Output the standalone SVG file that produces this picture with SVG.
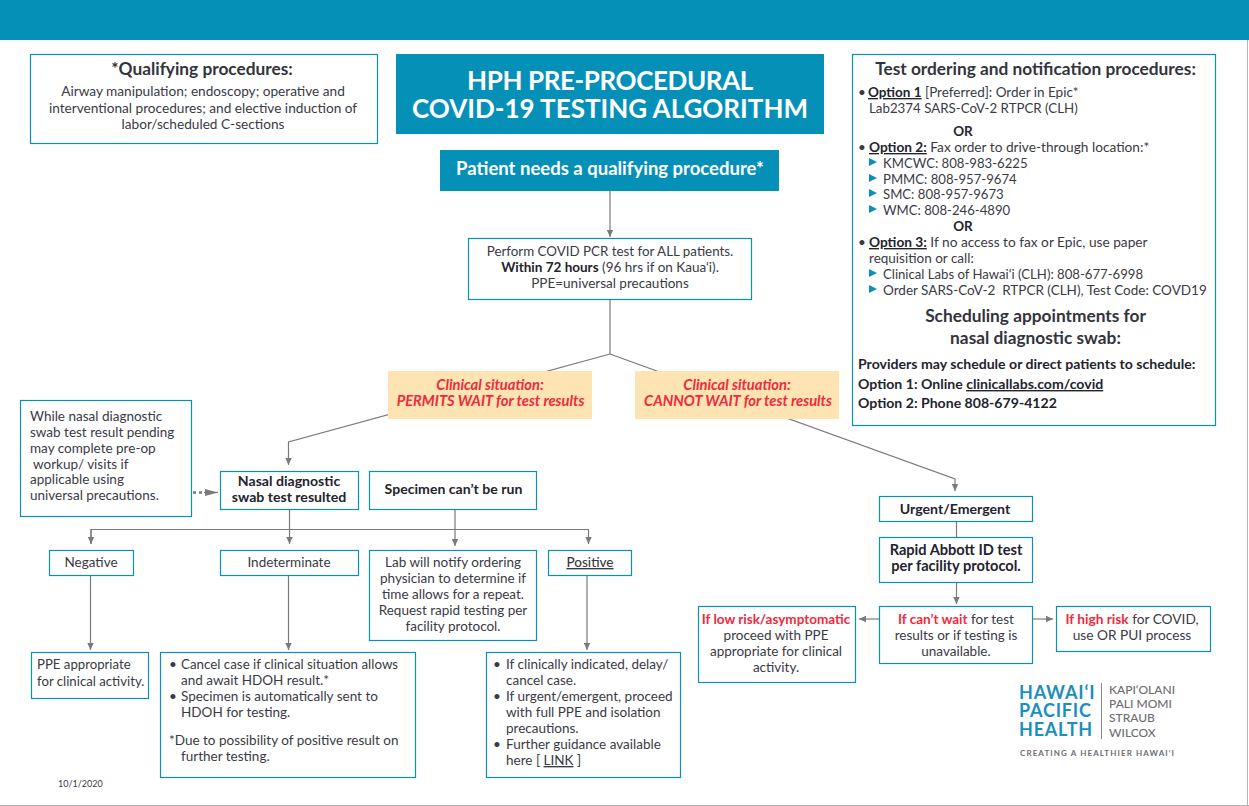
<svg xmlns="http://www.w3.org/2000/svg" width="1249" height="806" viewBox="0 0 1249 806">
<style>
text{font-family:"Lato","Open Sans","Liberation Sans",sans-serif;font-size:13.5px;fill:#3a3a44}
.c{text-anchor:middle}
.b{font-weight:700;fill:#23232d;font-size:14.100px}
.o{font-weight:700;fill:#23232d}
.box{fill:#fff;stroke:#0a8fb5;stroke-width:1.2}
.fill{fill:#0590b8}
.tan{fill:#fde4b2}
.w{fill:#fff;font-weight:700}
.r{fill:#ee2a40;font-weight:700}
.ri{fill:#ee2a40;font-weight:700;font-style:italic;font-size:14.700px}
.h{font-size:17.300px;font-weight:700;fill:#33333c}
.l{fill:none;stroke:#7a7a7a;stroke-width:1.2}
.tri{fill:#0a8fb5}
.p{font-size:13.150px}
.lg{font-size:18px;font-weight:700;fill:#1b8fc0;letter-spacing:.8px}
.ln{font-size:12px;fill:#6d6e71;font-weight:500}
</style>
<defs>
<marker id="a" markerWidth="8" markerHeight="8" refX="7" refY="4" orient="auto" markerUnits="userSpaceOnUse"><path d="M0 0.8L7 4L0 7.2z" fill="#7a7a7a"/></marker>
<marker id="d" markerWidth="14" markerHeight="10" refX="13" refY="5" orient="auto" markerUnits="userSpaceOnUse"><path d="M0 1.5L13 5L0 8.5z" fill="#7a7a7a"/></marker>
</defs>
<rect width="1249" height="806" fill="#fff"/>
<rect x="0" y="0" width="1249" height="40" class="fill"/>
<path d="M1247.500 40V806M0 805.500H1249" stroke="#b5b5b5" fill="none"/>
<g id="connectors">
<path class="l" marker-end="url(#a)" d="M610 191V237"/>
<path class="l" d="M610 299V354"/>
<path class="l" marker-end="url(#a)" d="M610 354L288.500 442V465"/>
<path class="l" marker-end="url(#a)" d="M610 354L955 479V491"/>
<path d="M193 492.500H204" stroke="#7a7a7a" stroke-width="2.500" stroke-dasharray="3 3" fill="none"/>
<path d="M204 492.500L218 492.500" marker-end="url(#d)" class="l"/>
<path class="l" marker-end="url(#a)" d="M289.500 510V544"/>
<path class="l" marker-end="url(#a)" d="M91 544V529.500H588.500V544"/>
<path class="l" marker-end="url(#a)" d="M91 529.500V544"/>
<path class="l" marker-end="url(#a)" d="M455 510V546"/>
<path class="l" marker-end="url(#a)" d="M90.500 576V650"/>
<path class="l" marker-end="url(#a)" d="M288.500 576V650"/>
<path class="l" marker-end="url(#a)" d="M587 576V650"/>
<path class="l" d="M956.500 522V537"/>
<path class="l" marker-end="url(#a)" d="M956.500 582V604"/>
<path class="l" marker-end="url(#a)" d="M879 619H859"/>
<path class="l" marker-end="url(#a)" d="M1033 619H1053"/>
</g>
<g id="n-qual"><rect class="box" x="30.500" y="54.500" width="347" height="89"/>
<text class="c h" x="202" y="75">*Qualifying procedures:</text>
<text class="c" x="203" y="96" style="font-size:13.650px">Airway manipulation; endoscopy; operative and</text>
<text class="c" x="203" y="113" style="font-size:13.650px">interventional procedures; and elective induction of</text>
<text class="c" x="203" y="129" style="font-size:13.650px">labor/scheduled C-sections</text></g>
<g id="n-title"><rect class="fill" x="396" y="54" width="428" height="80"/>
<text class="c w" style="font-size:26px;letter-spacing:-.4px" x="610" y="90">HPH PRE-PROCEDURAL</text>
<text class="c w" style="font-size:26px" x="610" y="118">COVID-19 TESTING ALGORITHM</text></g>
<g id="n-need"><rect class="fill" x="440" y="150" width="339" height="41"/>
<text class="c w" style="font-size:18.500px" x="610" y="175">Patient needs a qualifying procedure*</text></g>
<g id="n-pcr"><rect class="box" x="468.500" y="238.500" width="283" height="61"/>
<text class="c" x="610" y="256" style="font-size:13.350px">Perform COVID PCR test for ALL patients.</text>
<text class="c" x="610" y="272"><tspan class="o">Within 72 hours</tspan> (96 hrs if on Kaua‘i).</text>
<text class="c" x="610" y="288">PPE=universal precautions</text></g>
<g id="n-permits"><rect class="tan" x="388" y="371" width="204" height="48"/>
<text class="c ri" x="490" y="390">Clinical situation:</text>
<text class="c ri" x="490.500" y="406">PERMITS WAIT for test results</text></g>
<g id="n-cannot"><rect class="tan" x="635" y="371" width="204" height="48"/>
<text class="c ri" x="737" y="390">Clinical situation:</text>
<text class="c ri" x="738" y="406">CANNOT WAIT for test results</text></g>
<g id="n-while"><rect class="box" x="20.500" y="400.500" width="171" height="116"/>
<text x="30" y="421">While nasal diagnostic</text>
<text x="30" y="437">swab test result pending</text>
<text x="30" y="453">may complete pre-op</text>
<text x="33" y="469">workup/ visits if</text>
<text x="30" y="484">applicable using</text>
<text x="30" y="500">universal precautions.</text></g>
<g id="n-nasal"><rect class="box" x="220.500" y="471.500" width="138" height="38"/>
<text class="c b" x="289" y="486">Nasal diagnostic</text>
<text class="c b" x="289" y="502">swab test resulted</text></g>
<g id="n-spec"><rect class="box" x="369.500" y="471.500" width="167" height="38"/>
<text class="c b" x="453.500" y="494">Specimen can’t be run</text></g>
<g id="n-neg"><rect class="box" x="49.500" y="550.500" width="84" height="25"/>
<text class="c" x="91" y="567">Negative</text></g>
<g id="n-ind"><rect class="box" x="220.500" y="550.500" width="138" height="25"/>
<text class="c" x="289" y="567">Indeterminate</text></g>
<g id="n-lab"><rect class="box" x="369.500" y="550.500" width="167" height="90"/>
<text class="c" x="453" y="567">Lab will notify ordering</text>
<text class="c" x="453" y="583">physician to determine if</text>
<text class="c" x="453" y="599">time allows for a repeat.</text>
<text class="c" x="453" y="615">Request rapid testing per</text>
<text class="c" x="453" y="631">facility protocol.</text></g>
<g id="n-pos"><rect class="box" x="548.500" y="550.500" width="83" height="25"/>
<text class="c" x="590" y="567" text-decoration="underline" style="font-weight:500">Positive</text></g>
<g id="n-ppe"><rect class="box" x="31.500" y="652.500" width="117" height="46"/>
<text x="37" y="669" style="font-size:13.200px">PPE appropriate</text>
<text x="37" y="686" style="font-size:13.200px">for clinical activity.</text></g>
<g id="n-cancel"><rect class="box" x="160.500" y="652.500" width="255" height="125"/>
<text x="169" y="669">•</text><text x="181" y="669" style="font-size:13.350px">Cancel case if clinical situation allows</text>
<text x="181" y="685">and await HDOH result.*</text>
<text x="169" y="701">•</text><text x="181" y="701">Specimen is automatically sent to</text>
<text x="181" y="717">HDOH for testing.</text>
<text x="169" y="745">*Due to possibility of positive result on</text>
<text x="181" y="761">further testing.</text></g>
<g id="n-clin"><rect class="box" x="486.500" y="652.500" width="194" height="125"/>
<text x="493" y="669">•</text><text x="506" y="669">If clinically indicated, delay/</text>
<text x="506" y="685">cancel case.</text>
<text x="493" y="701">•</text><text x="506" y="701">If urgent/emergent, proceed</text>
<text x="506" y="717">with full PPE and isolation</text>
<text x="506" y="733">precautions.</text>
<text x="493" y="749">•</text><text x="506" y="749">Further guidance available</text>
<text x="506" y="765">here [ <tspan text-decoration="underline">LINK</tspan> ]</text></g>
<g id="n-urgent"><rect class="box" x="879.500" y="496.500" width="153" height="25"/>
<text class="c b" x="955" y="514">Urgent/Emergent</text></g>
<g id="n-rapid"><rect class="box" x="879.500" y="537.500" width="153" height="45"/>
<text class="c b" x="956" y="555" style="font-size:14.600px">Rapid Abbott ID test</text>
<text class="c b" x="956" y="571" style="font-size:14.600px">per facility protocol.</text></g>
<g id="n-cant"><rect class="box" x="879.500" y="606.500" width="153" height="57"/>
<text class="c" x="956" y="624"><tspan class="r">If can’t wait</tspan> for test</text>
<text class="c" x="956" y="640">results or if testing is</text>
<text class="c" x="956" y="656">unavailable.</text></g>
<g id="n-low"><rect class="box" x="698.500" y="606.500" width="157" height="76"/>
<text class="c r" x="776" y="624">If low risk/asymptomatic</text>
<text class="c" x="776" y="640">proceed with PPE</text>
<text class="c" x="776" y="656">appropriate for clinical</text>
<text class="c" x="776" y="672">activity.</text></g>
<g id="n-high"><rect class="box" x="1056.500" y="606.500" width="154" height="45"/>
<text class="c" x="1132" y="624" style="font-size:13.700px"><tspan class="r">If high risk</tspan> for COVID,</text>
<text class="c" x="1132" y="640" style="font-size:13.700px">use OR PUI process</text></g>
<g id="n-test"><rect class="box" x="852.500" y="54.500" width="363" height="371"/>
<text class="c h" x="1035.500" y="75">Test ordering and notification procedures:</text>
<text x="858" y="97">•</text><text x="868" y="97"><tspan class="o" text-decoration="underline">Option 1</tspan> [Preferred]: Order in Epic*</text>
<text x="869" y="113" style="font-size:13.300px">Lab2374 SARS-CoV-2 RTPCR (CLH)</text>
<text class="c o" x="963" y="136">OR</text>
<text x="858" y="152">•</text><text x="869" y="152" style="font-size:13.700px"><tspan class="o" text-decoration="underline">Option 2:</tspan> Fax order to drive-through location:*</text>
<path class="tri" d="M869 158l8 4-8 4zM869 174l8 4-8 4zM869 189l8 4-8 4zM869 205l8 4-8 4zM869 269l8 4-8 4zM869 285l8 4-8 4z"/>
<text class="p" x="883" y="168">KMCWC: 808-983-6225</text>
<text class="p" x="883" y="184">PMMC: 808-957-9674</text>
<text class="p" x="883" y="199">SMC: 808-957-9673</text>
<text class="p" x="883" y="215">WMC: 808-246-4890</text>
<text class="c o" x="963" y="231">OR</text>
<text x="858" y="247">•</text><text x="869" y="247" style="font-size:13.700px"><tspan class="o" text-decoration="underline">Option 3:</tspan> If no access to fax or Epic, use paper</text>
<text x="869" y="263">requisition or call:</text>
<text class="p" x="883" y="279">Clinical Labs of Hawai‘i (CLH): 808-677-6998</text>
<text x="883" y="295" style="white-space:pre">Order SARS-CoV-2  RTPCR (CLH), Test Code: COVD19</text>
<text class="c h" x="1035.500" y="322">Scheduling appointments for</text>
<text class="c h" x="1035.500" y="344">nasal diagnostic swab:</text>
<text class="b" x="858" y="369">Providers may schedule or direct patients to schedule:</text>
<text class="b" x="858" y="389">Option 1: Online <tspan text-decoration="underline">clinicallabs.com/covid</tspan></text>
<text class="b" x="858" y="408">Option 2: Phone 808-679-4122</text></g>
<g id="n-date"><text x="58" y="787" style="font-size:9px">10/1/2020</text></g>
<g id="logo">
<text class="lg" x="1019" y="699">HAWAI‘I</text>
<text class="lg" x="1019" y="717">PACIFIC</text>
<text class="lg" x="1019" y="736">HEALTH</text>
<path d="M1101.500 683V739" stroke="#888" fill="none"/>
<text class="ln" x="1109" y="694">KAPI‘OLANI</text>
<text class="ln" x="1109" y="708">PALI MOMI</text>
<text class="ln" x="1109" y="722">STRAUB</text>
<text class="ln" x="1109" y="737">WILCOX</text>
<text x="1020" y="756" style="font-size:8px;fill:#6d6e71;font-weight:700;letter-spacing:1.100px">CREATING A HEALTHIER HAWAI‘I</text>
</g>
</svg>
